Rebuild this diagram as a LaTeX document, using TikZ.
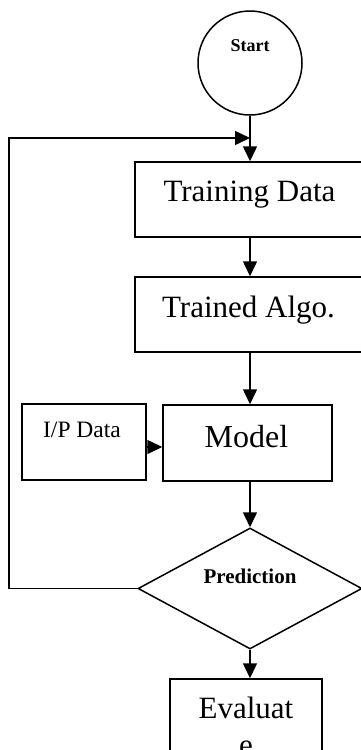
\documentclass[tikz,border=0pt]{standalone}
\usepackage{fontspec}
\setmainfont{Liberation Serif}
\usetikzlibrary{arrows.meta,shapes.geometric}
\begin{document}
\begin{tikzpicture}[x=1pt,y=-1pt,
  line width=1.5pt,
  box/.style={draw, rectangle, inner sep=0pt, line width=1.5pt},
  arr/.style={-{Triangle[length=15pt,width=14pt]}, line width=1.5pt},
  txt/.style={inner sep=0pt, anchor=base},
  bigtxt/.style={txt, font=\fontsize{31}{37}\selectfont},
]
\useasboundingbox (0,0) rectangle (361,750);
\clip (0,0) rectangle (361,750);

% shapes
\node[draw, circle, minimum size=104pt, inner sep=0pt] (start) at (250,63) {};
\node[box, minimum width=240pt, minimum height=75pt] (train) at (255,199.5) {};
\node[box, minimum width=240pt, minimum height=75pt] (algo) at (255,314.5) {};
\node[box, minimum width=169pt, minimum height=76pt] (model) at (247.5,443) {};
\node[box, minimum width=124pt, minimum height=76pt] (ip) at (84,442) {};
\node[draw, diamond, aspect=1.85, minimum width=224pt, minimum height=121pt, inner sep=0pt] (pred) at (250,588.5) {};
\node[box, minimum width=152pt, minimum height=141pt] (eval) at (246,749.5) {};

% texts
\node[txt, font=\fontsize{18}{20}\selectfont\bfseries] (startt) at (250,51) {Start};
\node[bigtxt] (traint) at (249.5,201) {Training Data};
\node[bigtxt] (algot) at (248.5,317) {Trained Algo.};
\node[txt, font=\fontsize{32}{37}\selectfont] (modelt) at (246.5,447) {Model};
\node[txt, font=\fontsize{23.5}{26}\selectfont] (ipt) at (82,437) {I/P Data};
\node[txt, font=\fontsize{21}{24}\selectfont\bfseries] (predt) at (250,583) {Prediction};
\node[bigtxt, align=center] (evalt) at (246,755) {Evaluat\\e};

% connectors
\coordinate (join) at (250,138);
\coordinate (fbl) at (9,138);
\draw[arr] (start.south) -- (train.north -| start.south);
\draw[arr] (train.south -| start.south) -- (algo.north -| start.south);
\draw[arr] (algo.south -| start.south) -- (model.north -| start.south);
\draw[arr] (ip.east |- 0,447) -- (model.west |- 0,447);
\draw[arr] (model.south -| pred.north) -- (pred.north);
\draw[arr] (pred.south) -- (eval.north -| pred.south);
\draw[arr] (pred.west) -| (fbl) -- (join);
\end{tikzpicture}
\end{document}
